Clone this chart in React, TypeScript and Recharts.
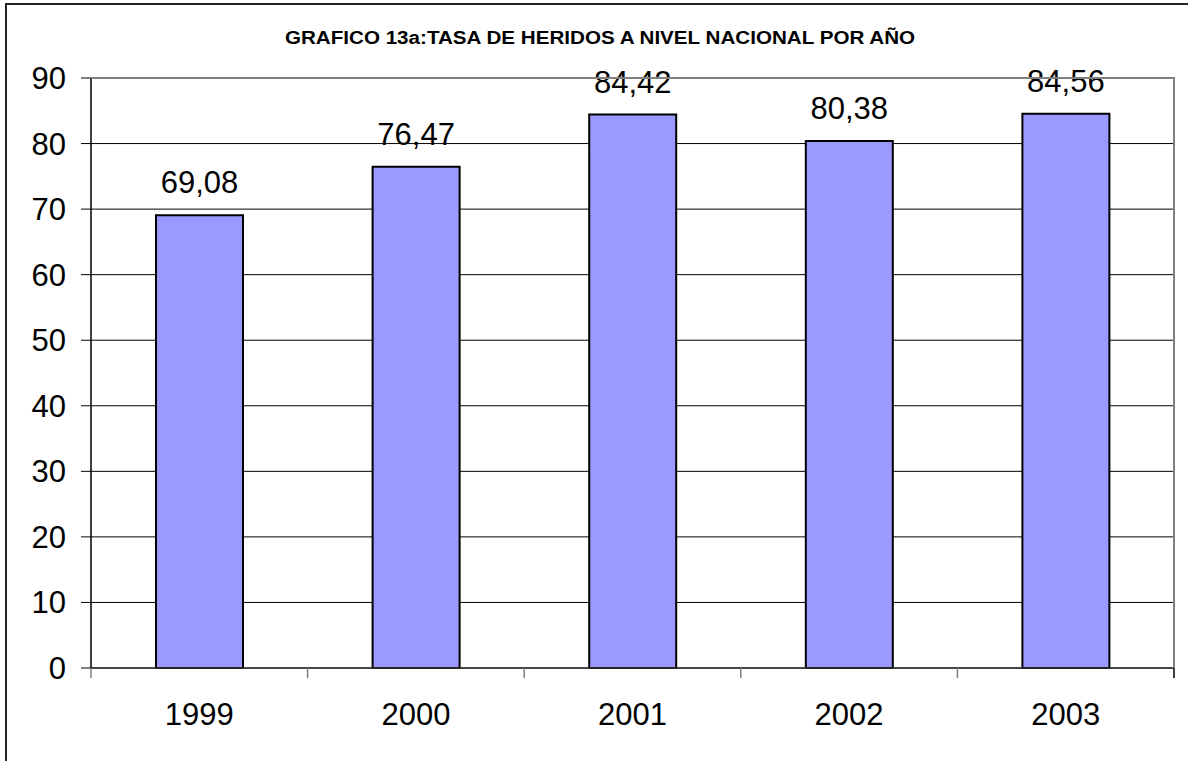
import React from 'react';
import { BarChart, Bar, XAxis, YAxis, CartesianGrid, LabelList } from 'recharts';

// Tasa de heridos a nivel nacional por año
const years = ['1999', '2000', '2001', '2002', '2003'];
const rates = [69.08, 76.47, 84.42, 80.38, 84.56];
const yTicks = [0, 10, 20, 30, 40, 50, 60, 70, 80, 90];

const data = years.map((year, i) => ({ year, rate: rates[i] }));

const FONT = '"Liberation Sans", Arial, sans-serif';

const fmt = (v: any) => Number(v).toFixed(2).replace('.', ',');

// category label in the middle, tick marks on the category boundaries
function YearTick(props: any) {
  const { x, y, payload, index, width, visibleTicksCount } = props;
  const half = width && visibleTicksCount ? width / visibleTicksCount / 2 : 0;
  const last = index === visibleTicksCount - 1;
  return (
    <g>
      <line x1={x - half} x2={x - half} y1={y} y2={y + 10} stroke="#808080" strokeWidth={1.5} />
      {last && (
        <line x1={x + half} x2={x + half} y1={y} y2={y + 10} stroke="#000" strokeWidth={1.5} />
      )}
      <text x={x} y={y + 57} textAnchor="middle" fill="#000" fontSize={31} fontFamily={FONT}>
        {payload.value}
      </text>
    </g>
  );
}

export default function App() {
  return (
    <div
      style={{
        position: 'fixed',
        left: 0,
        top: 0,
        width: 1188,
        height: 761,
        overflow: 'hidden',
        background: '#fff',
        fontFamily: FONT,
      }}
    >
      <div
        style={{
          position: 'absolute',
          left: 5,
          top: 3,
          width: 1300,
          height: 900,
          border: '2px solid #222',
        }}
      />
      <div
        style={{
          position: 'absolute',
          left: 0,
          top: 29,
          width: 1200,
          textAlign: 'center',
          fontWeight: 'bold',
          fontSize: 18,
          lineHeight: '18px',
          color: '#000',
          transform: 'scaleX(1.145)',
          transformOrigin: '600px 0',
        }}
      >
        GRAFICO 13a:TASA DE HERIDOS A NIVEL NACIONAL POR AÑO
      </div>
      <div style={{ position: 'absolute', left: 0, top: 0 }}>
        <BarChart
          width={1188}
          height={761}
          data={data}
          margin={{ top: 78, right: 14, left: 31, bottom: 43 }}
          barSize={87}
        >
          <CartesianGrid vertical={false} stroke="#000" strokeWidth={1} />
          <XAxis
            dataKey="year"
            height={50}
            interval={0}
            axisLine={{ stroke: '#333', strokeWidth: 1.5 }}
            tickLine={false}
            tickSize={0}
            tickMargin={0}
            tick={<YearTick />}
          />
          <YAxis
            domain={[0, 90]}
            ticks={yTicks}
            width={60}
            interval={0}
            tickSize={10}
            tickMargin={15}
            axisLine={{ stroke: '#000', strokeWidth: 1.5 }}
            tickLine={{ stroke: '#000' }}
            tick={{ fill: '#000', fontSize: 31, fontFamily: FONT }}
          />
          <Bar
            dataKey="rate"
            fill="#9999FF"
            stroke="#000"
            strokeWidth={2}
            isAnimationActive={false}
          >
            <LabelList
              dataKey="rate"
              position="top"
              offset={22}
              formatter={fmt}
              style={{ fill: '#000', fontSize: 31, fontFamily: FONT }}
            />
          </Bar>
        </BarChart>
      </div>
      {/* gray frame on top and right of the plot area */}
      <div
        style={{
          position: 'absolute',
          left: 91,
          top: 77,
          width: 1082,
          height: 589,
          borderTop: '2px solid #808080',
          borderRight: '2px solid #808080',
          pointerEvents: 'none',
        }}
      />
    </div>
  );
}
